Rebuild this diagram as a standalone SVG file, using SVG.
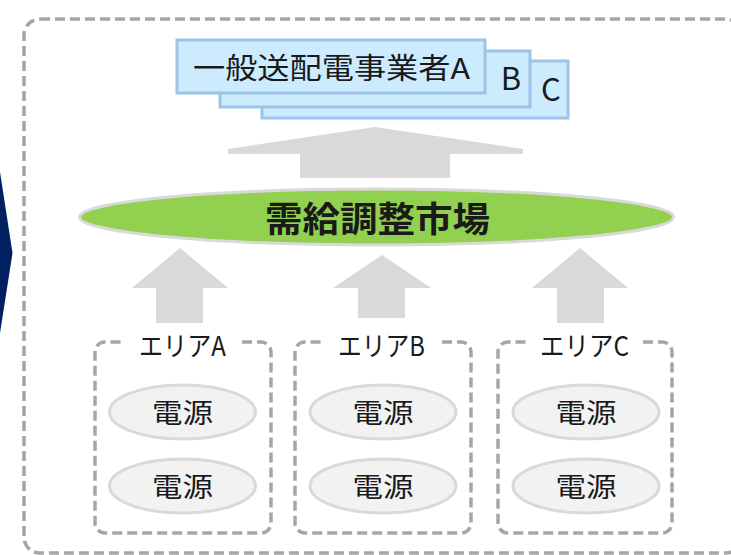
<svg xmlns="http://www.w3.org/2000/svg" width="731" height="555" viewBox="0 0 731 555">
<style>
.jp{font-family:"Noto Sans CJK JP","Noto Sans",sans-serif;fill:#1a1a1a}
.dash{fill:none;stroke:#A6A6A6;stroke-width:3.5;stroke-dasharray:10 5}
.co{fill:#CDEBFF;stroke:#9DC3E6;stroke-width:3}
.arrow{fill:#D9D9D9}
.src{fill:#F2F2F2;stroke:#D9D9D9;stroke-width:3}
</style>
<rect width="731" height="555" fill="#ffffff"/>
<polygon points="0,172 12.5,253 0,333" fill="#002060"/>
<rect class="dash" x="24" y="19" width="718" height="534" rx="16"/>
<g id="companies">
<rect class="co" x="262" y="61" width="306" height="57"/>
<text class="jp" x="551" y="101" font-size="31" text-anchor="middle">C</text>
<rect class="co" x="220" y="51" width="310" height="56"/>
<text class="jp" x="511" y="90" font-size="31" text-anchor="middle">B</text>
<rect class="co" x="177" y="40" width="308" height="53"/>
<text class="jp" x="193" y="79" font-size="29" textLength="277" lengthAdjust="spacingAndGlyphs">一般送配電事業者A</text>
</g>
<g id="connectors">
<polygon class="arrow" points="375,127 523,149 523,154 450,154 450,178 300,178 300,154 228,154 228,149"/>
<polygon class="arrow" points="180,248 228,288 203,288 203,323 156,323 156,288 132,288"/>
<polygon class="arrow" points="382,255 431,288 405,288 405,318 358,318 358,288 333,288"/>
<polygon class="arrow" points="580,248 628,288 604,288 604,323 557,323 557,288 532,288"/>
</g>
<g id="market">
<ellipse cx="376.5" cy="217" rx="297" ry="28" fill="#92D050" stroke="#D9D9D9" stroke-width="3"/>
<text class="jp" x="265" y="232" font-size="35" font-weight="bold" textLength="225" lengthAdjust="spacingAndGlyphs">需給調整市場</text>
</g>
<g id="areaA">
<path class="dash" d="M242,342 H261 A10,10 0 0 1 271,352 V523 A10,10 0 0 1 261,533 H105 A10,10 0 0 1 95,523 V352 A10,10 0 0 1 105,342 H122"/>
<text class="jp" x="139" y="356" font-size="27" textLength="87" lengthAdjust="spacingAndGlyphs">エリアA</text>
<ellipse class="src" cx="182.5" cy="412" rx="73" ry="27"/>
<text class="jp" x="152" y="423" font-size="27" textLength="61" lengthAdjust="spacingAndGlyphs">電源</text>
<ellipse class="src" cx="182.5" cy="486" rx="73" ry="27"/>
<text class="jp" x="152" y="497" font-size="27" textLength="61" lengthAdjust="spacingAndGlyphs">電源</text>
</g>
<g id="areaB">
<path class="dash" d="M442,342 H461 A10,10 0 0 1 471,352 V523 A10,10 0 0 1 461,533 H305 A10,10 0 0 1 295,523 V352 A10,10 0 0 1 305,342 H323"/>
<text class="jp" x="338" y="356" font-size="27" textLength="87" lengthAdjust="spacingAndGlyphs">エリアB</text>
<ellipse class="src" cx="383" cy="412" rx="73" ry="27"/>
<text class="jp" x="352.5" y="423" font-size="27" textLength="61" lengthAdjust="spacingAndGlyphs">電源</text>
<ellipse class="src" cx="383" cy="486" rx="73" ry="27"/>
<text class="jp" x="352.5" y="497" font-size="27" textLength="61" lengthAdjust="spacingAndGlyphs">電源</text>
</g>
<g id="areaC">
<path class="dash" d="M643,342 H662 A10,10 0 0 1 672,352 V523 A10,10 0 0 1 662,533 H508 A10,10 0 0 1 498,523 V352 A10,10 0 0 1 508,342 H528"/>
<text class="jp" x="540" y="356" font-size="27" textLength="89" lengthAdjust="spacingAndGlyphs">エリアC</text>
<ellipse class="src" cx="586" cy="412" rx="73" ry="27"/>
<text class="jp" x="555.5" y="423" font-size="27" textLength="61" lengthAdjust="spacingAndGlyphs">電源</text>
<ellipse class="src" cx="586" cy="486" rx="73" ry="27"/>
<text class="jp" x="555.5" y="497" font-size="27" textLength="61" lengthAdjust="spacingAndGlyphs">電源</text>
</g>
</svg>
